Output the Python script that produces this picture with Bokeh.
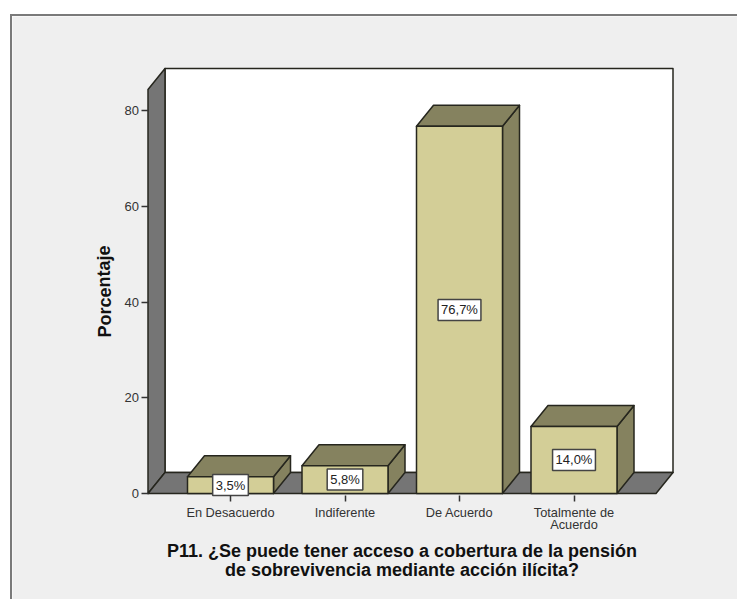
from bokeh.plotting import figure
from bokeh.models import Range1d, FixedTicker
from bokeh.core.properties import value
from bokeh.embed import file_html
from bokeh.resources import INLINE

categories = ["En Desacuerdo", "Indiferente", "De Acuerdo", "Totalmente de\nAcuerdo"]
percentages = [3.5, 5.8, 76.7, 14.0]
value_labels = ["3,5%", "5,8%", "76,7%", "14,0%"]
y_ticks = [0, 20, 40, 60, 80]
y_axis_title = "Porcentaje"
x_axis_title = "P11. ¿Se puede tener acceso a cobertura de la pensión\nde sobrevivencia mediante acción ilícita?"

FONT = "Liberation Sans"
BG = "#efefef"
FRONT = "#d3ce97"
SHADE = "#85825f"
WALL = "#757575"
EDGE = "#26261e"

# layout (page pixels)
fig_left, fig_top = 10, 14
fig_w, fig_h = 737 - fig_left, 599 - fig_top
border = 2
frame_left, frame_right = fig_left + border, fig_left + border + fig_w
frame_top, frame_bottom = fig_top + border, fig_top + border + fig_h
baseline = 493
px_per_cat = 114.5
px_per_pct = 4.7875
first_center = 230

X = lambda px: (px - first_center) / px_per_cat
Y = lambda py: (baseline - py) / px_per_pct

p = figure(
    width=fig_w, height=fig_h, output_backend="svg", toolbar_location=None,
    x_range=Range1d(X(frame_left), X(frame_right)),
    y_range=Range1d(Y(frame_bottom), Y(frame_top)),
    min_border_left=0, min_border_right=0, min_border_top=0, min_border_bottom=0,
    background_fill_color=BG, border_fill_color=BG,
)
p.margin = (fig_top, 0, 0, fig_left)
p.styles = {"border-left": f"{border}px solid #7a7a7a", "border-top": f"{border}px solid #7a7a7a",
            "box-sizing": "border-box"}
p.outline_line_color = None
p.grid.visible = False

depth_x = 17 / px_per_cat
depth_y = 21 / px_per_pct
half = 43 / px_per_cat
x0, x1 = X(147.5), X(655.5)
top = 84.4


def box(xs, ys, fill):
    p.patch(xs, ys, fill_color=fill, line_color=EDGE, line_width=1.5, line_join="round")


# back wall, left wall, floor
box([x0 + depth_x, x1 + depth_x, x1 + depth_x, x0 + depth_x], [depth_y, depth_y, top + depth_y, top + depth_y], "white")
box([x0, x0 + depth_x, x0 + depth_x, x0], [0, depth_y, top + depth_y, top], WALL)
box([x0, x1, x1 + depth_x, x0 + depth_x], [0, 0, depth_y, depth_y], WALL)

for i, v in enumerate(percentages):
    l, r = i - half, i + half
    box([r, r + depth_x, r + depth_x, r], [0, depth_y, v + depth_y, v], SHADE)
    box([l, r, r + depth_x, l + depth_x], [v, v, v + depth_y, v + depth_y], SHADE)
    box([l, r, r, l], [0, 0, v, v], FRONT)

p.text(
    x=list(range(len(percentages))), y=[v / 2 for v in percentages], text=value_labels,
    text_font=value(FONT), text_font_size="13px", text_color="#222222",
    text_align="center", text_baseline="middle",
    background_fill_color="white", border_line_color="#444444", border_line_width=1.5, padding=3,
)

xa = p.xaxis[0]
xa.fixed_location = 0
xa.ticker = FixedTicker(ticks=list(range(len(categories))))
xa.major_label_overrides = {i: c for i, c in enumerate(categories)}
xa.axis_line_color = None
xa.major_tick_line_color = "#333333"
xa.major_tick_line_width = 1.5
xa.major_tick_in = -2
xa.major_tick_out = 8
xa.minor_tick_line_color = None
xa.major_label_text_font = FONT
xa.major_label_text_font_size = "12.8px"
xa.major_label_text_color = "#333333"
xa.major_label_text_line_height = 0.82
xa.major_label_standoff = 3

ya = p.yaxis[0]
ya.fixed_location = x0
ya.ticker = FixedTicker(ticks=y_ticks)
ya.axis_line_color = None
ya.major_tick_line_color = "#333333"
ya.major_tick_line_width = 1.5
ya.major_tick_in = 0
ya.major_tick_out = 7
ya.minor_tick_line_color = None
ya.major_label_text_font = FONT
ya.major_label_text_font_size = "13px"
ya.major_label_text_color = "#333333"
ya.major_label_standoff = 2

p.text(x=[X(104)], y=[Y(291)], text=[y_axis_title], angle=1.5708,
       text_font=value(FONT), text_font_style="bold", text_font_size="18px", text_color="#111111",
       text_align="center", text_baseline="middle")
p.text(x=[X(401.5)], y=[Y(559.5)], text=[x_axis_title],
       text_font=value(FONT), text_font_style="bold", text_font_size="18px", text_color="#111111",
       text_align="center", text_baseline="middle", text_line_height=0.95)

open("out.html", "w").write(file_html(p, INLINE))
